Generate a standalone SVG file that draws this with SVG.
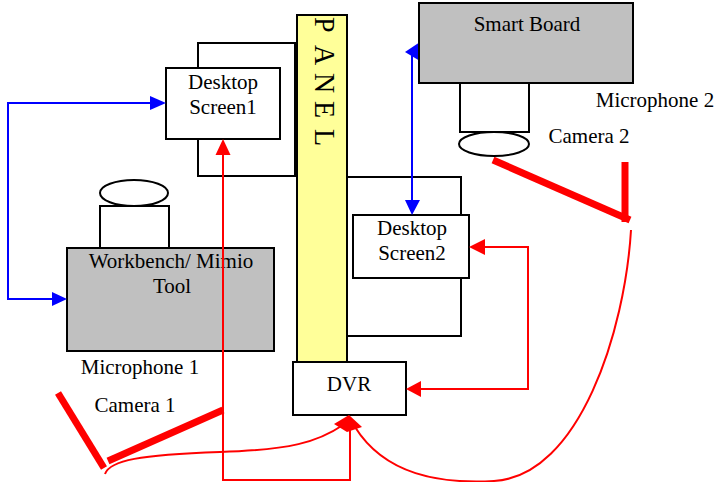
<svg xmlns="http://www.w3.org/2000/svg" width="717" height="482" viewBox="0 0 717 482">
<style>
.box{fill:#fff;stroke:#000;stroke-width:2}
.gray{fill:#c0c0c0;stroke:#000;stroke-width:2}
.t{font-family:"Liberation Serif","Times New Roman",serif;font-size:21px;fill:#000;text-anchor:middle}
.p{font-family:"Liberation Serif","Times New Roman",serif;font-size:28px;fill:#000}
.red{fill:none;stroke:#f00;stroke-width:2}
.thick{fill:none;stroke:#f00;stroke-width:7}
.blue{fill:none;stroke:#00f;stroke-width:2}
.rh{fill:#f00}
.bh{fill:#00f}
</style>
<rect width="717" height="482" fill="#fff"/>
<g id="screen1-back"><rect class="box" x="198" y="43" width="97" height="133"/></g>
<g id="screen2-back"><rect class="box" x="347" y="177" width="114" height="159"/></g>
<g id="panel"><rect x="297" y="15" width="50" height="348" fill="#ffff99" stroke="#000" stroke-width="2"/>
<text class="p" transform="translate(315,0) rotate(90) scale(1,1.08)" x="17 45 73 101 129" y="0">PANEL</text></g>
<g id="screen1"><rect class="box" x="166" y="68" width="114" height="71"/>
<text class="t" x="223" y="89">Desktop</text><text class="t" x="223" y="114">Screen1</text></g>
<g id="camera-workbench"><ellipse cx="134" cy="193" rx="34" ry="13" class="box"/><rect class="box" x="100" y="206" width="69" height="42"/></g>
<g id="workbench"><rect class="gray" x="67" y="248" width="207" height="103"/>
<text class="t" x="171" y="268">Workbench/ Mimio</text><text class="t" x="172" y="293">Tool</text></g>
<g id="screen2"><rect class="box" x="353" y="215" width="116" height="63"/>
<text class="t" x="412" y="235">Desktop</text><text class="t" x="412" y="260">Screen2</text></g>
<g id="dvr"><rect class="box" x="293" y="362" width="113" height="53"/><text class="t" x="349" y="391">DVR</text></g>
<g id="labels">
<text class="t" x="140" y="374">Microphone 1</text>
<text class="t" x="135" y="412">Camera 1</text>
<text class="t" x="655" y="107">Microphone 2</text>
<text class="t" x="589" y="143">Camera 2</text>
</g>
<g id="connectors">
<polyline class="blue" points="150,103 8,103 8,299 52,299"/>
<polygon class="bh" points="166,103 150,96 150,110"/>
<polygon class="bh" points="67,299 52,292 52,306"/>
<line class="blue" x1="412" y1="55" x2="412" y2="201"/>
<polygon class="bh" points="412,215 405,200 420,200"/>
<polygon class="bh" points="405,52 420,42 420,61"/>
<polyline class="red" points="223,154 223,480 350,480 350,428"/>
<polygon class="rh" points="223,139 215.5,155 230.5,155"/>
<polyline class="red" points="484,247 528,247 528,389 421,389"/>
<polygon class="rh" points="469,247 485,239 485,255"/>
<polygon class="rh" points="406,389 421,381 421,397"/>
<path class="red" d="M105,474 C110,460 140,455 220,452 C290,450 318,442 343,425"/>
<path class="red" d="M355,427 C385,475 440,484 494,481 C580,476 625,330 631,230"/>
<polygon class="rh" points="349,415 334,424 347,432 362,427"/>
<line class="thick" x1="58" y1="393" x2="104" y2="468"/>
<line class="thick" x1="108" y1="461" x2="223" y2="410"/>
<line class="thick" x1="493" y1="160" x2="630" y2="220"/>
<line class="thick" x1="625" y1="162" x2="625" y2="222"/>
</g>
<g id="smartboard"><rect class="gray" x="419" y="3" width="214" height="80"/><text class="t" x="527" y="31">Smart Board</text></g>
<g id="camera-smartboard"><rect class="box" x="460" y="83" width="69" height="49"/><ellipse cx="494" cy="144" rx="35" ry="12" class="box"/></g>
</svg>
